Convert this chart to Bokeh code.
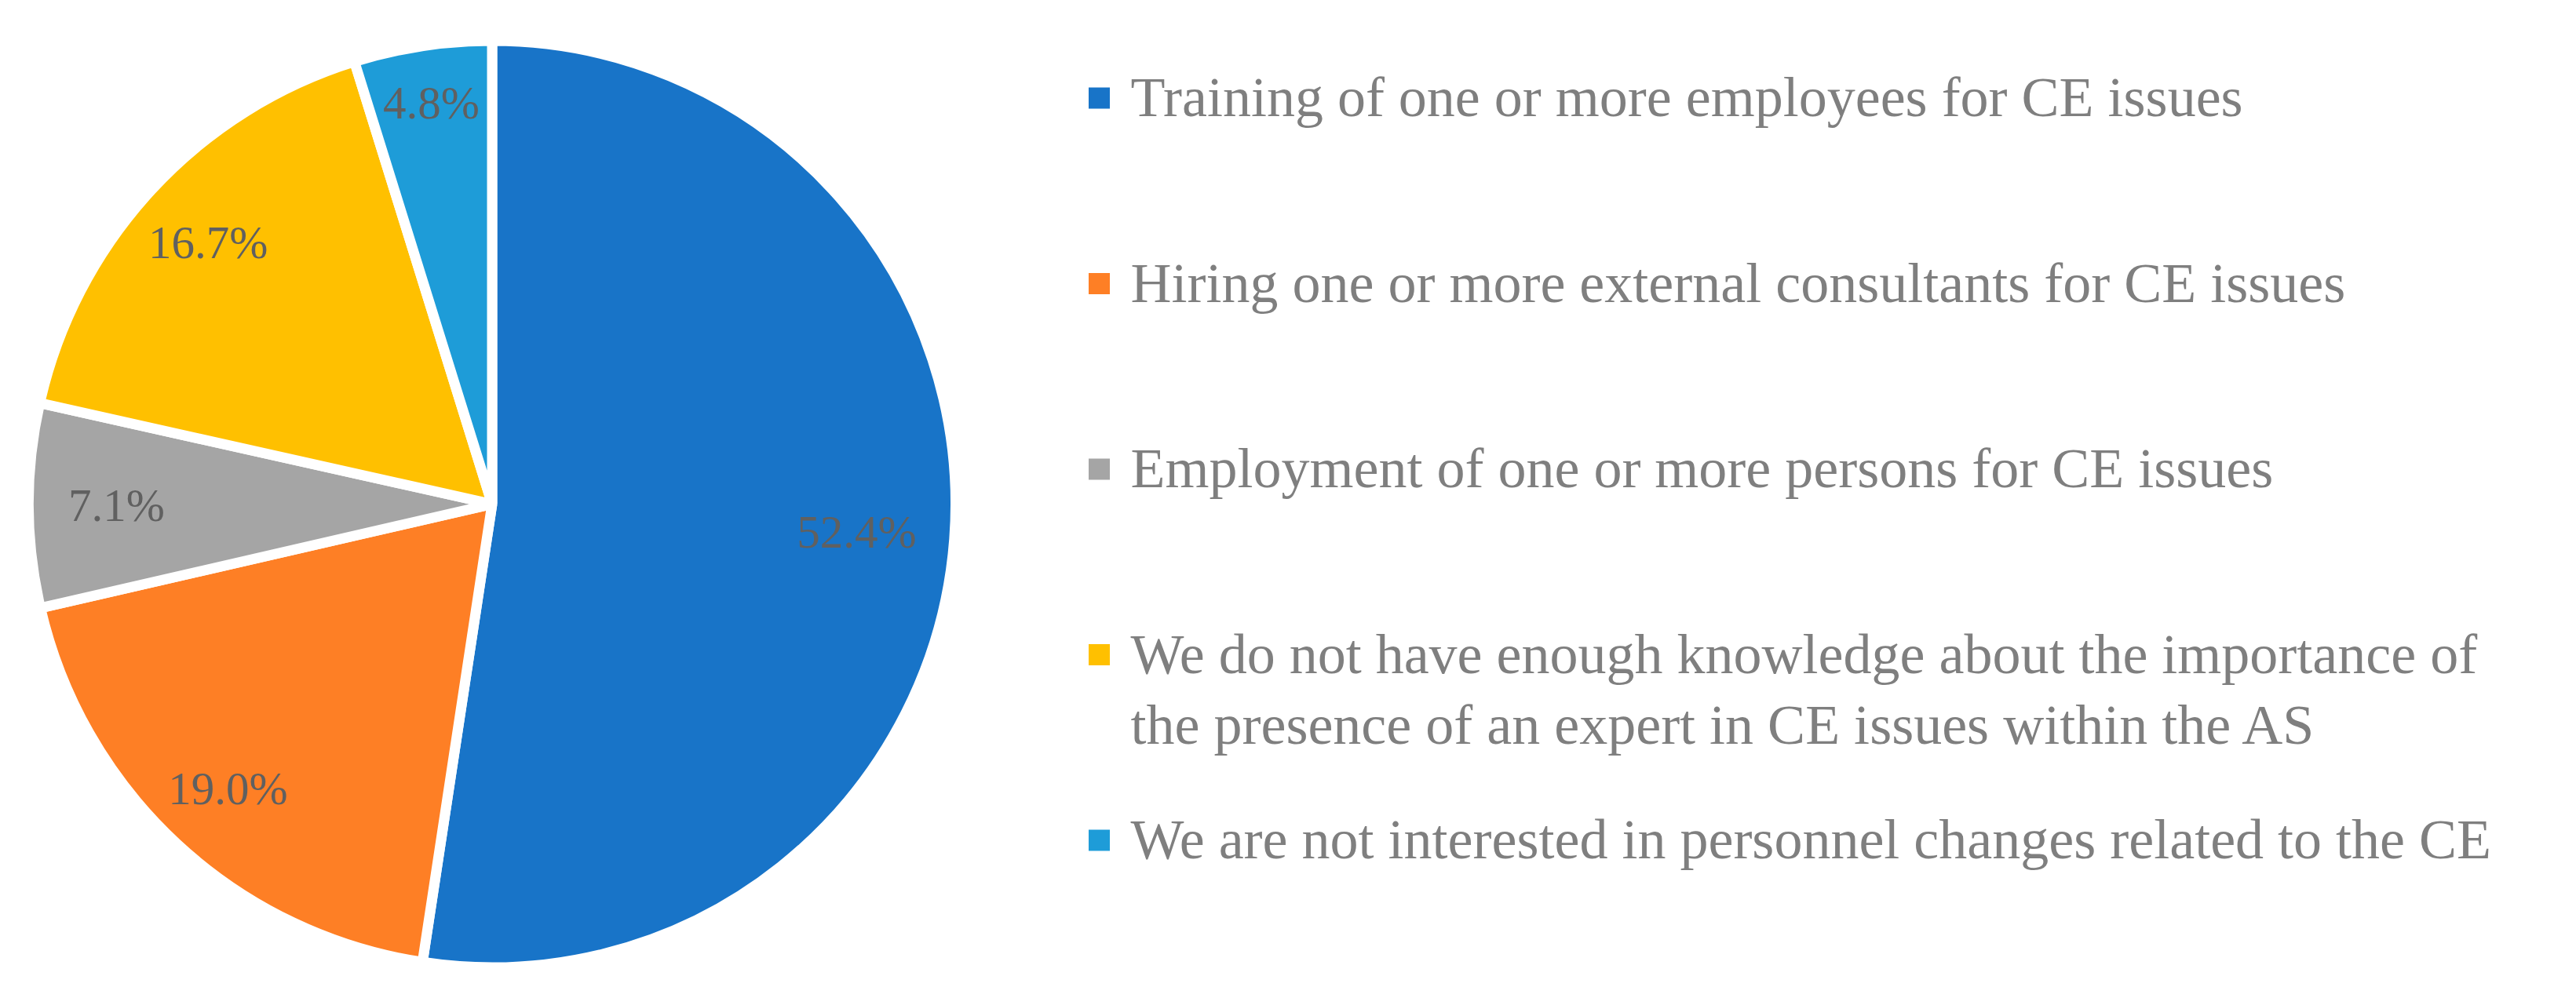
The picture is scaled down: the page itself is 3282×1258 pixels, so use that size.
import numpy as np
from bokeh.plotting import figure
from bokeh.models import Range1d, ColumnDataSource
from bokeh.embed import file_html
from bokeh.resources import INLINE
from bokeh.core.properties import value

# ---- data ----
categories = [
    "Training of one or more employees for CE issues",
    "Hiring one or more external consultants for CE issues",
    "Employment of one or more persons for CE issues",
    "We do not have enough knowledge about the importance of\nthe presence of an expert in CE issues within the AS",
    "We are not interested in personnel changes related to the CE",
]
shares = [52.4, 19.0, 7.1, 16.7, 4.8]
pct_labels = ["52.4%", "19.0%", "7.1%", "16.7%", "4.8%"]
colors = ["#1874C8", "#FE7F25", "#A5A5A5", "#FFC000", "#1E9CD8"]

# ---- figure (data units == page pixels) ----
W, H = 3266, 1242
p = figure(width=W, height=H, x_range=Range1d(0, W), y_range=Range1d(0, H),
           output_backend="svg", toolbar_location=None, min_border=0,
           x_axis_location=None, y_axis_location=None)
p.grid.visible = False
p.outline_line_color = None
p.background_fill_color = "white"
p.border_fill_color = "white"

def py(Y):
    return H - Y

# ---- pie ----
cx, cy = 626.5, py(642)
GAP = 13
R = 584 + GAP / 2
vals = np.array(shares, dtype=float)
frac = vals / vals.sum()
cum = np.cumsum(frac)
prev = np.concatenate([[0.0], cum[:-1]])
start = np.pi / 2 - 2 * np.pi * prev
end = np.pi / 2 - 2 * np.pi * cum
mid = (start + end) / 2

src = ColumnDataSource(dict(x=[cx] * len(vals), y=[cy] * len(vals), start=start, end=end,
                            color=colors))
p.wedge(x="x", y="y", radius=R, start_angle="start", end_angle="end", direction="clock",
        fill_color="color", line_color="white", line_width=GAP, source=src)

# data labels placed "inside end": label box kept within an inner radius
LFS = 59
char_w = {".": 0.25, "%": 0.833}
def text_w(s):
    return LFS * sum(char_w.get(c, 0.5) for c in s)
lw = np.array([text_w(s) for s in pct_labels])
lh = 0.7 * LFS
R_in = 540 + 22 * np.abs(np.sin(2 * mid))
lr = R_in - (lw / 2 * np.abs(np.cos(mid)) + lh / 2 * np.abs(np.sin(mid)))
lab = ColumnDataSource(dict(x=cx + lr * np.cos(mid), y=cy + lr * np.sin(mid), t=pct_labels))
p.text(x="x", y="y", text="t", source=lab, text_align="center", text_baseline="middle",
       text_font=value("Liberation Serif"), text_font_size=f"{LFS}px", text_color="#606060")

# ---- legend ----
sq_x, txt_x = 1400, 1440
row0, row_gap, line_gap = 124.5, 236.5, 90
sq_y, t_x, t_y, t_s = [], [], [], []
for i, name in enumerate(categories):
    Yc = row0 + i * row_gap
    sq_y.append(py(Yc))
    for j, line in enumerate(name.split("\n")):
        t_x.append(txt_x)
        t_y.append(py(Yc - 1 + j * line_gap))
        t_s.append(line)

p.scatter(x=[sq_x] * len(categories), y=sq_y, marker="square", size=27,
          fill_color=colors, line_color=None)
p.text(x=t_x, y=t_y, text=t_s, text_align="left", text_baseline="middle",
       text_font=value("Liberation Serif"), text_font_size="72px", text_color="#7F7F7F")

open("out.html", "w").write(file_html(p, INLINE))
